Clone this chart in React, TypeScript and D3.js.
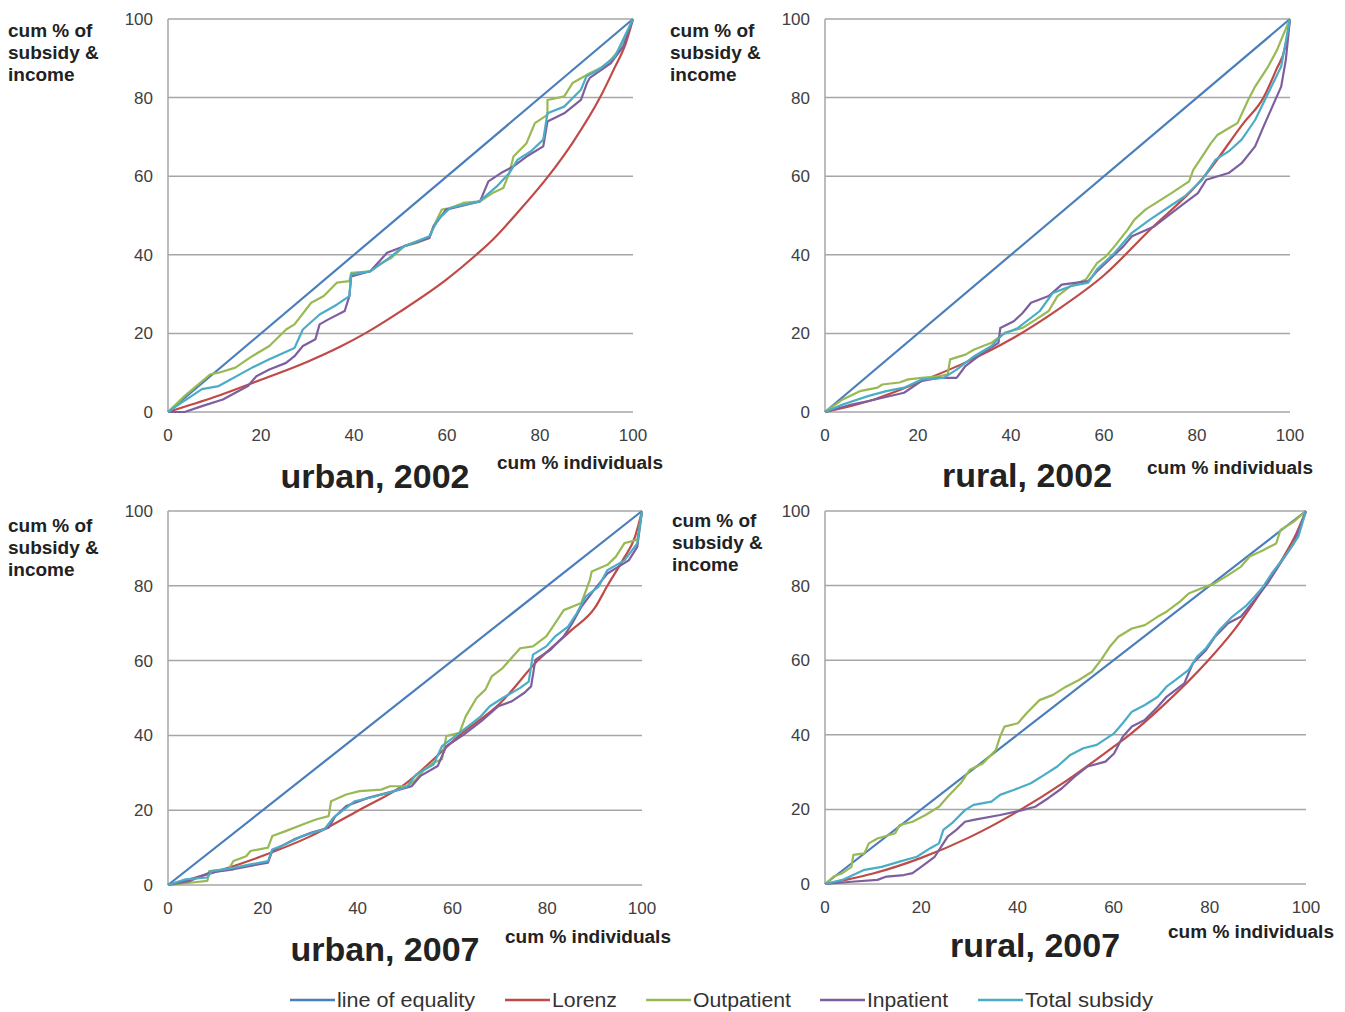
import React from "react";
import * as d3 from "d3";

// ticks shared by every panel
const ticks = [0, 20, 40, 60, 80, 100];
const yTitleLines = ["cum % of", "subsidy &", "income"];
const xTitle = "cum % individuals";
const legendLabels = ["line of equality", "Lorenz", "Outpatient", "Inpatient", "Total subsidy"];

const equality: [number, number][] = [[0, 0], [100, 100]];

// urban, 2002
const u02Lorenz: [number, number][] = [[0, 0], [10, 3.8], [20, 8.2], [30, 12.8], [37, 16.6], [42.4, 20], [50, 25.6], [60, 33.8], [66.3, 40], [70, 44], [75, 50.5], [81.8, 60], [87, 68.5], [92.9, 80], [96, 87.5], [98.5, 94], [100, 100]];
const u02Out: [number, number][] = [[0, 0], [3.6, 4.1], [9.1, 9.6], [10.9, 10], [14.5, 11.3], [18.1, 14.2], [21.8, 16.8], [25.4, 21], [27.2, 22.3], [30.8, 27.8], [33.5, 29.5], [36.3, 32.9], [39, 33.3], [39.4, 35.4], [43.5, 35.8], [45.3, 37.5], [48, 39.2], [50.8, 42.2], [53.5, 43], [56.2, 44.3], [57.1, 47.2], [58.9, 51.5], [60.7, 51.9], [63.5, 53.2], [67.1, 53.6], [69.8, 55.7], [72.1, 57], [73.4, 60.8], [74.3, 65], [77.1, 68.4], [78.9, 73.5], [81.6, 75.6], [81.6, 79.4], [85.2, 80.3], [87, 83.7], [90.7, 86.2], [94.3, 88.3], [97, 92.1], [100, 100]];
const u02In: [number, number][] = [[0, 0], [3.6, 0], [7.3, 1.5], [11.8, 3.2], [14.5, 4.9], [17.2, 6.6], [19, 9.1], [21.8, 10.8], [25.4, 12.5], [27.2, 14.2], [29, 16.8], [31.7, 18.5], [32.6, 22.3], [34.4, 23.5], [38, 25.7], [39, 29.5], [39.4, 34.5], [43.5, 35.8], [47.1, 40.5], [50.8, 42.2], [56.2, 44.3], [57.1, 47.2], [59.8, 51.5], [67.1, 53.6], [68.9, 58.7], [71.6, 60.8], [74.3, 62.5], [77.1, 65], [80.7, 67.6], [81.6, 73.9], [85.2, 76], [88.8, 79.4], [90.1, 83.7], [90.7, 85], [95.2, 88.7], [97.9, 93], [100, 100]];
const u02Total: [number, number][] = [[0, 0], [1.8, 1.5], [7.3, 5.8], [10.9, 6.6], [18.1, 11.3], [21.8, 13.4], [27.2, 16.3], [29, 21], [32.6, 24.8], [36.3, 27.3], [39, 29.5], [39.4, 35], [43.5, 35.8], [47.1, 38.8], [50.8, 42.2], [56.2, 44.7], [58, 48.9], [60.7, 51.9], [67, 53.6], [70.7, 57.4], [73.4, 60.8], [75.2, 64.2], [78, 66.3], [80.7, 69.3], [81.6, 76], [85.2, 77.7], [88.8, 82], [90, 85.4], [92.5, 87], [96.1, 90.4], [100, 100]];

// rural, 2002
const r02Lorenz: [number, number][] = [[0, 0], [10, 3], [20, 7.5], [30, 12.5], [40, 18.5], [50, 26], [60, 34.8], [70, 46.5], [80, 57.8], [81.6, 60], [90, 73.5], [94.3, 80], [97, 87], [99, 93], [100, 100]];
const r02Out: [number, number][] = [[0, 0], [3.8, 3.2], [7.5, 5.3], [11.3, 6.2], [12.3, 7], [16, 7.5], [17.9, 8.3], [20.8, 8.7], [24.5, 9.1], [26.4, 9.6], [26.9, 13.4], [30.2, 14.6], [32.1, 15.9], [35.8, 17.6], [38.7, 20.2], [42.5, 21.4], [45.3, 23.5], [48.1, 25.7], [50, 29.5], [52.8, 32], [56.1, 33.7], [58.5, 37.9], [60.4, 39.6], [62.3, 42.2], [65.1, 46.4], [66.5, 48.9], [68.9, 51.5], [71.7, 53.6], [74.5, 55.7], [78.3, 58.7], [79.2, 61.6], [81.1, 65], [83, 68.4], [84.4, 70.5], [86.8, 72.2], [88.7, 73.5], [91, 79.4], [92.5, 82.8], [95.3, 87.9], [97.2, 92.1], [98.1, 94.7], [100, 100]];
const r02In: [number, number][] = [[0, 0], [5.7, 1.9], [9.4, 2.8], [17, 4.9], [20.8, 7.9], [24.5, 8.7], [28.3, 8.7], [30.2, 11.7], [34, 15.1], [37.3, 17.6], [37.7, 21.4], [40.6, 23.1], [42.5, 25.2], [44.3, 27.8], [48.1, 29.5], [50.9, 32.4], [56.6, 33.3], [58.5, 35.8], [64.2, 42.2], [66, 44.7], [70.8, 47.2], [74.5, 50.6], [77.4, 53.2], [80.2, 55.7], [82, 59.1], [86.8, 60.8], [89.6, 63.3], [92.5, 67.6], [94.3, 72.6], [96.2, 77.7], [98.1, 82.8], [99.1, 89.6], [100, 100]];
const r02Total: [number, number][] = [[0, 0], [3.8, 1.9], [9.4, 4.1], [13.2, 5.3], [17, 6.2], [20.8, 8.3], [25.5, 8.7], [28.3, 10.8], [32.1, 14.2], [35.8, 16.8], [38.2, 19.7], [41.5, 21.4], [46.2, 25.7], [49, 30.3], [52.8, 32], [56.6, 32.9], [58.5, 36.3], [62.3, 40.5], [66, 45.6], [69.8, 48.9], [73.6, 51.9], [77.4, 54.9], [81.1, 59.1], [84, 64.2], [86.8, 66.3], [89.6, 69.3], [92.5, 74.3], [95.3, 81.1], [98.1, 87.9], [100, 100]];

// urban, 2007
const u07Lorenz: [number, number][] = [[0, 0], [10, 3.5], [20, 7.8], [30, 13], [40, 19.8], [50, 27], [61.5, 40], [70, 48.5], [78, 60], [85, 68], [90, 74], [92.7, 80], [96, 87], [98.5, 93], [100, 100]];
const u07Out: [number, number][] = [[0, 0], [4.6, 0.6], [8.3, 1.1], [8.7, 3.7], [12.8, 4.2], [13.8, 6.4], [16.5, 7.7], [17.4, 9.1], [21.1, 10], [22, 13.1], [24.8, 14.4], [28.4, 16.2], [31.2, 17.5], [33.9, 18.4], [34.4, 22.4], [37.6, 24.2], [40.4, 25.1], [45, 25.5], [46.8, 26.4], [50.5, 26.4], [52.3, 28.2], [54.1, 30.9], [56, 32.7], [57.8, 33.6], [58.7, 39.8], [61.5, 40.7], [62.8, 45.1], [65.1, 50], [67, 52.3], [68.3, 55.8], [70.6, 58], [74.3, 63.3], [77, 63.8], [79.8, 66.5], [81.2, 69.1], [83.5, 73.5], [87.2, 75.4], [89, 81.6], [89.4, 83.8], [92.7, 85.6], [94.5, 87.8], [96.3, 91.4], [99, 92.3], [100, 100]];
const u07In: [number, number][] = [[0, 0], [4.6, 1.1], [8.7, 3.3], [13.8, 4.2], [17.4, 5.1], [21.1, 6], [22, 9.1], [26.6, 12.2], [30.3, 14], [33.9, 15.3], [35.3, 18.4], [37.6, 21.1], [42.2, 23.3], [47.7, 25.1], [51.4, 26.4], [53.2, 29.1], [56.9, 31.8], [58.7, 37.1], [62.4, 40.2], [66.1, 43.8], [69.7, 47.8], [72.5, 49.1], [75.2, 51.4], [76.6, 53.1], [77.5, 60.2], [80.7, 62.9], [83.5, 66.5], [85.3, 70], [87.2, 74.4], [89.9, 78.9], [92.7, 83.3], [97.2, 86.8], [99, 90.4], [100, 100]];
const u07Total: [number, number][] = [[0, 0], [3.7, 1.5], [8.3, 2], [9.2, 3.7], [13.8, 4.6], [17.4, 5.5], [21.1, 6.4], [22, 9.5], [24.8, 10.9], [28.4, 13.1], [33, 14.9], [34.9, 18], [37.6, 20.6], [39.4, 22.4], [44, 23.8], [47.7, 25.1], [50.5, 26.4], [52.3, 29.5], [56, 32.2], [57.8, 37.1], [60.6, 39.8], [63.3, 42.4], [66, 45.1], [67.9, 47.8], [70.6, 50], [74.3, 52.7], [76.1, 54.4], [77, 61.6], [79.8, 63.8], [81.7, 66.5], [84.4, 69.1], [86.2, 72.6], [88.1, 77.1], [90.8, 79.7], [92.7, 84.2], [96.3, 86.8], [99, 91.3], [100, 100]];

// rural, 2007
const r07Lorenz: [number, number][] = [[0, 0], [10, 2.8], [20, 7], [30, 12.5], [40, 19.4], [50, 27.5], [60, 36.8], [63.3, 40], [70, 47.5], [79.7, 60], [85, 68], [91.5, 80], [95, 87], [98, 94], [100, 100]];
const r07Out: [number, number][] = [[0, 0], [1.8, 2], [3.6, 2.9], [5.5, 4.6], [5.9, 7.8], [8.2, 8.2], [9.1, 10.9], [10.9, 12.2], [14.6, 13.6], [15.5, 15.8], [18.2, 16.7], [20.9, 18.5], [23.7, 20.7], [25.5, 23.4], [28.2, 27], [30.1, 30.6], [32.8, 32.3], [35.5, 35.9], [36.4, 39.5], [37.3, 42.2], [40.1, 43.1], [41.9, 45.8], [44.6, 49.3], [47.4, 50.7], [50.1, 52.9], [52.8, 54.7], [55.5, 56.9], [57.4, 60.1], [59.2, 63.6], [61, 66.3], [63.8, 68.5], [66.5, 69.4], [69.2, 71.7], [71, 73], [73.8, 75.7], [75.6, 77.9], [78.3, 79.3], [81, 80.6], [83.8, 82.8], [86.5, 85.1], [88.3, 87.8], [91.1, 89.5], [93.8, 91.3], [94.7, 94.9], [97.4, 97.1], [100, 100]];
const r07In: [number, number][] = [[0, 0], [5.5, 0.6], [10.9, 1.1], [12.8, 2], [16.4, 2.4], [18.2, 2.9], [20, 4.6], [22.8, 7.3], [23.7, 9.1], [25.5, 12.7], [27.3, 14.5], [29.1, 16.7], [30.9, 17.2], [36.4, 18.5], [41, 19.8], [43.7, 20.7], [46.4, 23], [49.2, 25.6], [51.9, 28.8], [54.6, 31.5], [58.3, 32.8], [60.1, 35], [61.9, 39.5], [63.8, 42.2], [66.5, 44], [69.2, 47.5], [71, 50.2], [74.7, 53.8], [76.5, 59.2], [79.2, 62.7], [81.1, 66.3], [83.8, 69.9], [86.5, 71.7], [89.3, 76.1], [92, 80.6], [93.8, 84.2], [95.6, 87.8], [97.5, 91.4], [100, 100]];
const r07Total: [number, number][] = [[0, 0], [3.6, 1.1], [8.2, 3.8], [11.8, 4.6], [15.5, 6], [19.1, 7.3], [21.9, 9.6], [23.7, 10.9], [24.6, 14.5], [26.4, 16.3], [29.1, 19.8], [30.9, 21.2], [34.6, 22.1], [36.4, 23.9], [39.2, 25.2], [42.8, 27], [45.5, 29.2], [48.3, 31.5], [51, 34.6], [53.7, 36.4], [56.5, 37.3], [60.1, 40.4], [61.9, 43.1], [63.8, 46.2], [66.5, 48], [69.2, 50.2], [71, 52.9], [72.9, 54.7], [75.6, 57.4], [77.4, 61], [79.2, 63.2], [82, 68.1], [84.7, 71.7], [87.4, 74.4], [89.3, 77], [91.1, 79.7], [92.9, 83.3], [95.6, 87.8], [98.4, 93.1], [100, 100]];

const colors = ["#4a7ebb", "#be4b48", "#98b954", "#7d5fa0", "#4bacc6"];
const font = "'Liberation Sans', Arial, sans-serif";

type Pt = [number, number];

const Panel = ({ box, lines, title, titleAt, xTitleAt, yTitleAt }: any) => {
  const x = d3.scaleLinear().domain([0, 100]).range([box.left, box.right]);
  const y = d3.scaleLinear().domain([0, 100]).range([box.bottom, box.top]);
  const jagged = d3.line<Pt>().x((d) => x(d[0])).y((d) => y(d[1]));
  // Lorenz curve is smooth in the original
  const smooth = d3.line<Pt>().x((d) => x(d[0])).y((d) => y(d[1])).curve(d3.curveMonotoneX);

  return (
    <g>
      {ticks.map((t) => (
        <line key={"g" + t} x1={x(0)} x2={x(100)} y1={y(t)} y2={y(t)} stroke="#a6a6a6" strokeWidth={1.5} />
      ))}
      <line x1={x(0)} x2={x(0)} y1={y(0)} y2={y(100)} stroke="#a6a6a6" strokeWidth={1.5} />
      {ticks.map((t) => (
        <text key={"y" + t} x={x(0) - 15} y={y(t)} dy="0.35em" textAnchor="end" fontSize={17} fill="#404040" fontFamily={font}>
          {t}
        </text>
      ))}
      {ticks.map((t) => (
        <text key={"x" + t} x={x(t)} y={box.bottom + 29} textAnchor="middle" fontSize={17} fill="#404040" fontFamily={font}>
          {t}
        </text>
      ))}
      {lines.map((s: Pt[], i: number) => (
        <path
          key={"s" + i}
          d={(i < 2 ? smooth(s) : jagged(s)) || ""}
          fill="none"
          stroke={colors[i]}
          strokeWidth={2.2}
          strokeLinejoin="round"
        />
      ))}
      {yTitleLines.map((l, i) => (
        <text key={"t" + i} x={yTitleAt[0]} y={yTitleAt[1] + i * 22} fontSize={19} fontWeight="bold" fill="#222" fontFamily={font}>
          {l}
        </text>
      ))}
      <text x={xTitleAt[0]} y={xTitleAt[1]} fontSize={18} fontWeight="bold" fill="#222" fontFamily={font} textLength={166} lengthAdjust="spacingAndGlyphs">
        {xTitle}
      </text>
      <text x={titleAt[0]} y={titleAt[1]} textAnchor="middle" fontSize={34} fontWeight="bold" fill="#222" fontFamily={font}>
        {title}
      </text>
    </g>
  );
};

const legendPos = [
  { x: 290, w: 138 },
  { x: 505, w: 65 },
  { x: 646, w: 98 },
  { x: 820, w: 81 },
  { x: 978, w: 128 },
];

export default function App() {
  return (
    <svg width={1345} height={1012} style={{ position: "absolute", left: 0, top: 0, display: "block", background: "#fff" }}>
      <Panel
        box={{ left: 168, right: 633, top: 19, bottom: 412 }}
        lines={[equality, u02Lorenz, u02Out, u02In, u02Total]}
        title="urban, 2002"
        titleAt={[375, 488]}
        xTitleAt={[497, 469]}
        yTitleAt={[8, 37]}
      />
      <Panel
        box={{ left: 825, right: 1290, top: 19, bottom: 412 }}
        lines={[equality, r02Lorenz, r02Out, r02In, r02Total]}
        title="rural, 2002"
        titleAt={[1027, 487]}
        xTitleAt={[1147, 474]}
        yTitleAt={[670, 37]}
      />
      <Panel
        box={{ left: 168, right: 642, top: 511, bottom: 885 }}
        lines={[equality, u07Lorenz, u07Out, u07In, u07Total]}
        title="urban, 2007"
        titleAt={[385, 961]}
        xTitleAt={[505, 943]}
        yTitleAt={[8, 532]}
      />
      <Panel
        box={{ left: 825, right: 1306, top: 511, bottom: 884 }}
        lines={[equality, r07Lorenz, r07Out, r07In, r07Total]}
        title="rural, 2007"
        titleAt={[1035, 957]}
        xTitleAt={[1168, 938]}
        yTitleAt={[672, 527]}
      />
      {legendLabels.map((l, i) => (
        <g key={l}>
          <line x1={legendPos[i].x} x2={legendPos[i].x + 45} y1={1000} y2={1000} stroke={colors[i]} strokeWidth={2.5} />
          <text
            x={legendPos[i].x + 47}
            y={1007}
            fontSize={20}
            fill="#333"
            fontFamily="'Liberation Sans Narrow', 'Liberation Sans', Arial, sans-serif"
            textLength={legendPos[i].w}
            lengthAdjust="spacingAndGlyphs"
          >
            {l}
          </text>
        </g>
      ))}
    </svg>
  );
}
